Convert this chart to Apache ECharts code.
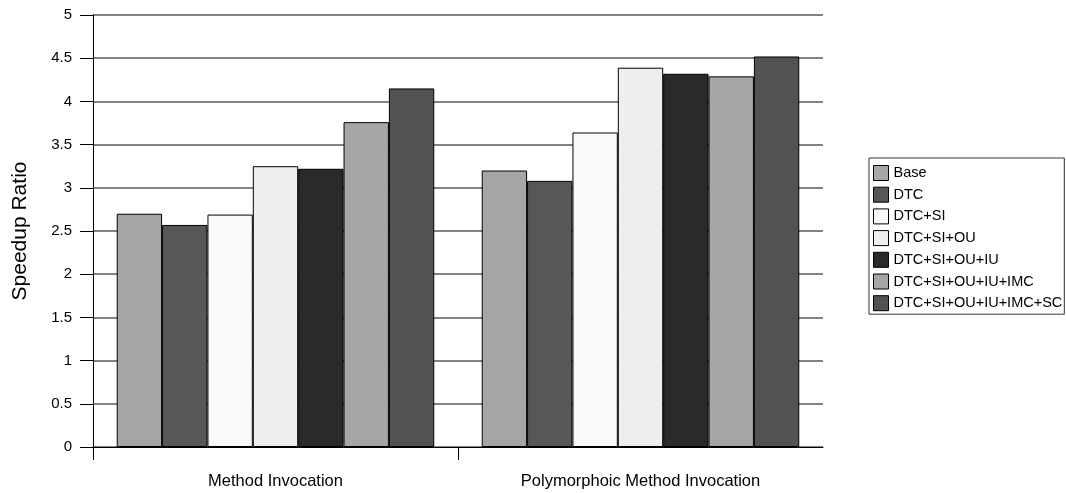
<!DOCTYPE html>
<html>
<head>
<meta charset="utf-8">
<script src="https://cdn.jsdelivr.net/npm/echarts@6/dist/echarts.min.js"></script>
<style>
  html, body { margin: 0; padding: 0; background: #fff; }
  #chart { width: 1066px; height: 493px; }
</style>
</head>
<body>
<div id="chart"></div>
<script>
// Benchmark groups on the x axis
const categories = ['Method Invocation', 'Polymorphoic Method Invocation'];

// Optimisation configurations (one bar per configuration in each group)
const configNames = [
  'Base',
  'DTC',
  'DTC+SI',
  'DTC+SI+OU',
  'DTC+SI+OU+IU',
  'DTC+SI+OU+IU+IMC',
  'DTC+SI+OU+IU+IMC+SC'
];

// Speedup ratio per configuration: [Method Invocation, Polymorphoic Method Invocation]
const base          = [2.70, 3.20];
const dtc           = [2.57, 3.08];
const dtcSi         = [2.69, 3.64];
const dtcSiOu       = [3.25, 4.39];
const dtcSiOuIu     = [3.22, 4.32];
const dtcSiOuIuImc  = [3.76, 4.29];
const dtcSiOuIuImcSc = [4.15, 4.52];

// Group separator positions (in category units) where the bottom ticks are drawn
const groupTicks = [0, 1];

const seriesValues = [base, dtc, dtcSi, dtcSiOu, dtcSiOuIu, dtcSiOuIuImc, dtcSiOuIuImcSc];
const fills = ['#a6a6a6', '#575757', '#f9f9f9', '#eeeeee', '#2a2a2a', '#a6a6a6', '#525252'];

const FONT = '"Liberation Sans", Arial, sans-serif';

const series = configNames.map((name, i) => ({
  name: name,
  type: 'bar',
  xAxisIndex: 0,
  data: seriesValues[i],
  barGap: '0%',
  barCategoryGap: '13%',
  itemStyle: { color: fills[i], borderColor: '#000', borderWidth: 1 },
  emphasis: { disabled: true }
}));

const chart = echarts.init(document.getElementById('chart'), null, { renderer: 'canvas' });
chart.setOption({
  animation: false,
  backgroundColor: '#fff',
  grid: { left: 93, right: 243, top: 15, bottom: 46, containLabel: false },
  legend: {
    orient: 'vertical',
    left: 869,
    top: 158,
    data: configNames,
    icon: 'rect',
    itemWidth: 15,
    itemHeight: 15,
    itemGap: 5.7,
    padding: [7, 2, 3, 4],
    borderColor: '#333',
    borderWidth: 1,
    itemStyle: { borderWidth: 1 },
    textStyle: { fontFamily: FONT, fontSize: 14.5, color: '#000' },
    selectedMode: false
  },
  xAxis: [
    {
      type: 'category',
      data: categories,
      axisLine: { lineStyle: { color: '#000', width: 1 } },
      axisTick: { show: false },
      axisLabel: { fontFamily: FONT, fontSize: 16.5, color: '#000', margin: 26 }
    },
    {
      // tick-only companion axis marking the group boundaries
      type: 'value',
      position: 'bottom',
      min: 0,
      max: categories.length,
      interval: 1,
      axisLine: { show: false },
      axisTick: { show: true, length: 13, customValues: groupTicks, lineStyle: { color: '#000', width: 1 } },
      axisLabel: { show: false },
      splitLine: { show: false }
    }
  ],
  yAxis: {
    type: 'value',
    min: 0,
    max: 5,
    interval: 0.5,
    name: 'Speedup Ratio',
    nameLocation: 'middle',
    nameGap: 62,
    nameTextStyle: { fontFamily: FONT, fontSize: 21, color: '#000' },
    axisLine: { show: true, lineStyle: { color: '#000', width: 1 } },
    axisTick: { show: true, length: 13, lineStyle: { color: '#000' } },
    axisLabel: { fontFamily: FONT, fontSize: 15, color: '#000', margin: 21 },
    splitLine: { lineStyle: { color: '#5a5a5a', width: 1.5 } }
  },
  series: series
});
</script>
</body>
</html>
